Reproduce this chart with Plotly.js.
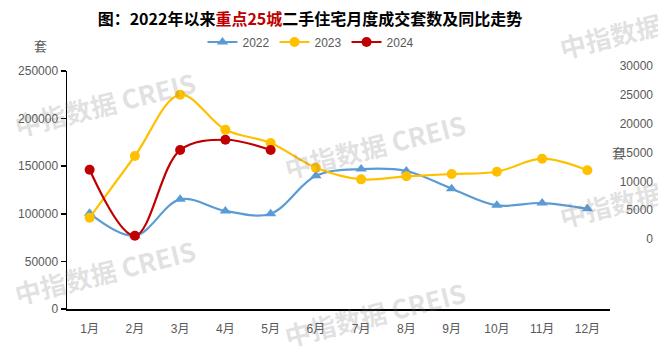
<!DOCTYPE html>
<html>
<head>
<meta charset="utf-8">
<script src="https://cdn.plot.ly/plotly-3.0.1.min.js"></script>
<style>html,body{margin:0;padding:0;background:#fff;}#chart{width:658px;height:347px;}</style>
</head>
<body>
<div id="chart"></div>
<script>
const months = ['1月','2月','3月','4月','5月','6月','7月','8月','9月','10月','11月','12月'];
const s2022 = [100500, 77000, 115200, 103000, 100100, 140000, 147000, 145000, 126400, 108900, 111300, 105400];
const s2023 = [95900, 160700, 225100, 188300, 174400, 148400, 136200, 139400, 141800, 144200, 157900, 145700];
const s2024 = [146300, 77000, 167000, 177800, 167000];
const leftTicks = [0, 50000, 100000, 150000, 200000, 250000];
const rightTicks = [0, 5000, 10000, 15000, 20000, 25000, 30000];

const gray = '#595959';
const numFont = 'Liberation Sans, Arial, Noto Sans CJK SC, sans-serif';
const cjkFont = 'Noto Sans CJK SC, Liberation Sans, sans-serif';

const traces = [
  {name:'2022', x:months, y:s2022, type:'scatter', mode:'lines+markers',
   line:{color:'#5B9BD5', width:2.2, shape:'spline', smoothing:1},
   marker:{symbol:'triangle-up', size:10, color:'#5B9BD5'}},
  {name:'2023', x:months, y:s2023, type:'scatter', mode:'lines+markers',
   line:{color:'#FFC000', width:2.2, shape:'spline', smoothing:1},
   marker:{symbol:'circle', size:10, color:'#FFC000'}},
  {name:'2024', x:months.slice(0, s2024.length), y:s2024, type:'scatter', mode:'lines+markers',
   line:{color:'#C00000', width:2.2, shape:'spline', smoothing:1},
   marker:{symbol:'circle', size:10, color:'#C00000'}},
  {x:[], y:[], yaxis:'y2', type:'scatter', mode:'lines', showlegend:false, hoverinfo:'skip'}
];

const wm = [[104,103],[104,271],[374,145],[374,313],[649,25],[649,194]];
const W = 658, H = 347, ML = 67, MR = 5, MT = 66, MB = 38;
const PW = W - ML - MR, PH = H - MT - MB;
const px = v => (v - ML) / PW;
const py = v => (H - MB - v) / PH;

const annotations = wm.map(p => ({
  text:'<b>中指数据 CREIS</b>', xref:'paper', yref:'paper', x:px(p[0]), y:py(p[1]),
  xanchor:'center', yanchor:'middle', showarrow:false, textangle:-14,
  font:{family:cjkFont, size:26, color:'rgba(120,120,120,0.22)'}
}));
annotations.push({text:'套', xref:'paper', yref:'paper', x:px(40), y:py(45), xanchor:'center', yanchor:'middle',
  showarrow:false, font:{family:cjkFont, size:13, color:gray}});
annotations.push({text:'套', xref:'paper', yref:'paper', x:px(618), y:py(152), xanchor:'center', yanchor:'middle',
  showarrow:false, font:{family:cjkFont, size:13, color:gray}});

const layout = {
  width:W, height:H,
  margin:{l:ML, r:MR, t:MT, b:MB},
  paper_bgcolor:'#fff', plot_bgcolor:'rgba(0,0,0,0)',
  showlegend:true,
  title:{text:'<b>图：2022年以来<span style="color:#C00000">重点25城</span>二手住宅月度成交套数及同比走势</b>',
    x:310/W, xanchor:'center', xref:'container', y:1-19/H, yanchor:'middle', yref:'container',
    font:{family:cjkFont, size:16, color:'#000'}},
  legend:{orientation:'h', x:px(311), xanchor:'center', y:py(42), yanchor:'middle',
    font:{family:numFont, size:12, color:gray}, bgcolor:'rgba(0,0,0,0)'},
  xaxis:{type:'category', domain:[0, (610-ML)/PW], range:[-0.5, 11.5],
    showline:true, linecolor:'#000', linewidth:1.5, ticks:'', showgrid:false, zeroline:false,
    ticklabelstandoff:8, tickfont:{family:numFont, size:12, color:gray}},
  yaxis:{domain:[0, py(71)], range:[0, 250000], tickvals:leftTicks, tickformat:'d',
    showline:true, linecolor:'#000', linewidth:1.5, ticks:'outside', ticklen:5, tickcolor:'#000', tickwidth:1.5,
    showgrid:false, zeroline:false, tickfont:{family:numFont, size:12, color:gray}},
  yaxis2:{domain:[py(239), 1], range:[0, 30000], tickvals:rightTicks, tickformat:'d',
    anchor:'free', position:1, side:'left', showline:false, ticks:'', showgrid:false, zeroline:false,
    tickfont:{family:numFont, size:12, color:gray}},
  annotations:annotations
};

Plotly.newPlot('chart', traces, layout, {displayModeBar:false, staticPlot:true});
</script>
</body>
</html>
